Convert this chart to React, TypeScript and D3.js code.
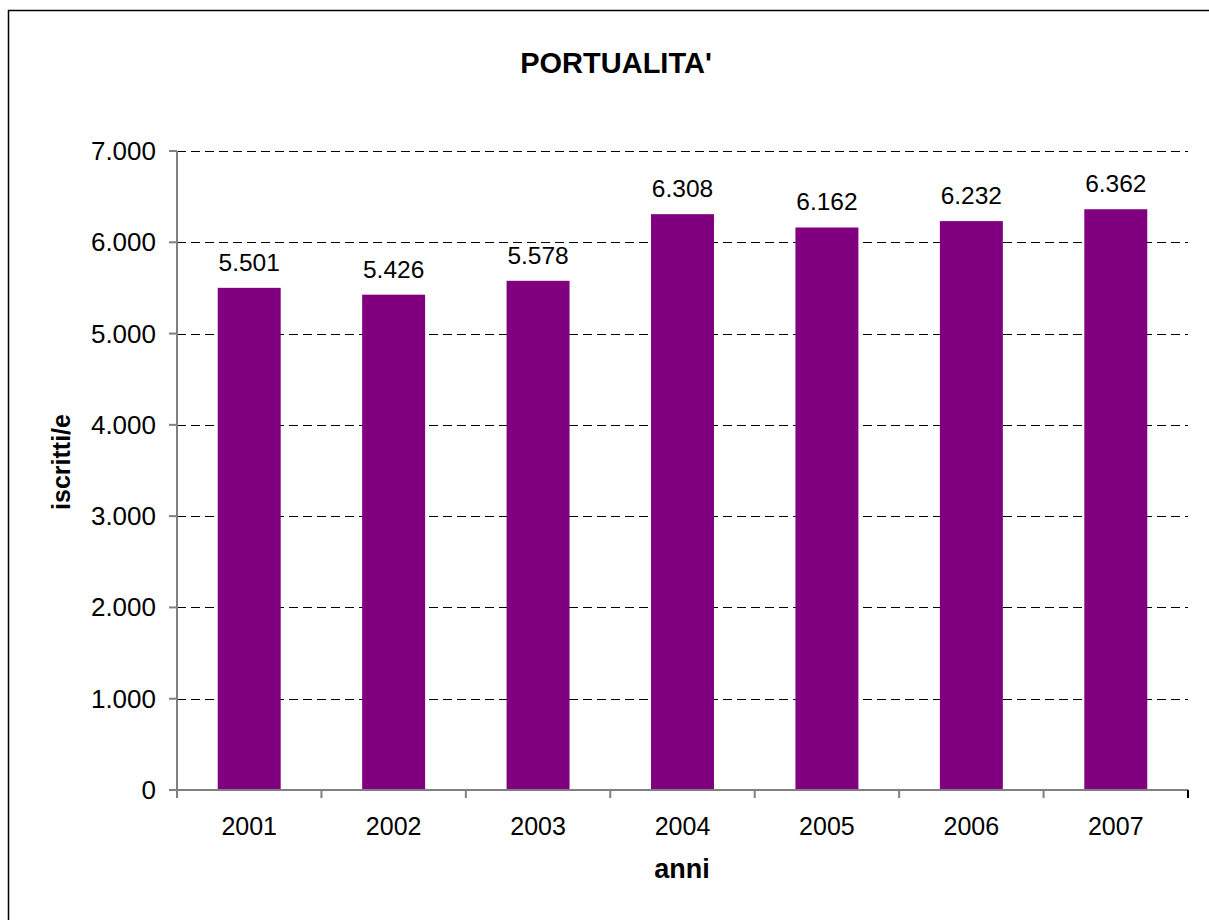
import React from "react";
import * as d3 from "d3";

const years = ["2001", "2002", "2003", "2004", "2005", "2006", "2007"];
const values = [5501, 5426, 5578, 6308, 6162, 6232, 6362];
const yTicks = [0, 1000, 2000, 3000, 4000, 5000, 6000, 7000];
const title = "PORTUALITA'";
const xTitle = "anni";
const yTitle = "iscritti/e";

const fmt = (v: number) => {
  const s = String(v);
  return s.length > 3 ? s.slice(0, s.length - 3) + "." + s.slice(s.length - 3) : s;
};

export default function App() {
  const W = 1209, H = 920;
  const left = 177, right = 1188, top = 151, bottom = 790;
  const x = d3.scaleBand<string>().domain(years).range([left, right]).paddingInner(0.564).paddingOuter(0.282);
  const y = d3.scaleLinear().domain([0, 7000]).range([bottom, top]);
  const step = (right - left) / years.length;
  const font = "Arial, 'Liberation Sans', sans-serif";
  const axisColor = "#808080";
  const ry = (t: number) => Math.round(y(t)) + 0.5;
  return (
    <svg width={W} height={H} style={{ position: "absolute", left: 0, top: 0, background: "#fff" }} fontFamily={font}>
      <rect x={8.5} y={10.5} width={W + 20} height={H + 20} fill="#fff" stroke="#000" strokeWidth={1.5} />
      <text x={616} y={73} textAnchor="middle" fontSize={29} fontWeight="bold">{title}</text>
      {yTicks.filter(t => t > 0).map(t => (
        <line key={"g" + t} x1={left} x2={right} y1={ry(t)} y2={ry(t)} stroke="#000" strokeWidth={1} strokeDasharray="9,5" />
      ))}
      {years.map((yr, i) => (
        <rect key={yr} x={x(yr)!} y={y(values[i])} width={x.bandwidth()} height={bottom - y(values[i])} fill="#800080" />
      ))}
      {years.map((yr, i) => (
        <text key={"v" + yr} x={x(yr)! + x.bandwidth() / 2} y={y(values[i]) - 17} textAnchor="middle" fontSize={24.5}>{fmt(values[i])}</text>
      ))}
      <line x1={left} x2={left} y1={top} y2={bottom + 8} stroke={axisColor} strokeWidth={2} />
      <line x1={left - 8} x2={right} y1={bottom} y2={bottom} stroke={axisColor} strokeWidth={2} />
      {yTicks.map(t => (
        <g key={"t" + t}>
          <line x1={left - 8} x2={left} y1={y(t)} y2={y(t)} stroke={axisColor} strokeWidth={2} />
          <text x={left - 21} y={y(t) + 9} textAnchor="end" fontSize={26}>{fmt(t)}</text>
        </g>
      ))}
      {d3.range(years.length + 1).map(i => (
        <line key={"xt" + i} x1={left + i * step} x2={left + i * step} y1={bottom} y2={bottom + 8} stroke={i === years.length ? "#000" : axisColor} strokeWidth={2} />
      ))}
      {years.map(yr => (
        <text key={"xl" + yr} x={x(yr)! + x.bandwidth() / 2} y={835} textAnchor="middle" fontSize={25}>{yr}</text>
      ))}
      <text x={682} y={878} textAnchor="middle" fontSize={27} fontWeight="bold">{xTitle}</text>
      <text transform={`translate(70,462) rotate(-90)`} textAnchor="middle" fontSize={25} fontWeight="bold">{yTitle}</text>
    </svg>
  );
}
